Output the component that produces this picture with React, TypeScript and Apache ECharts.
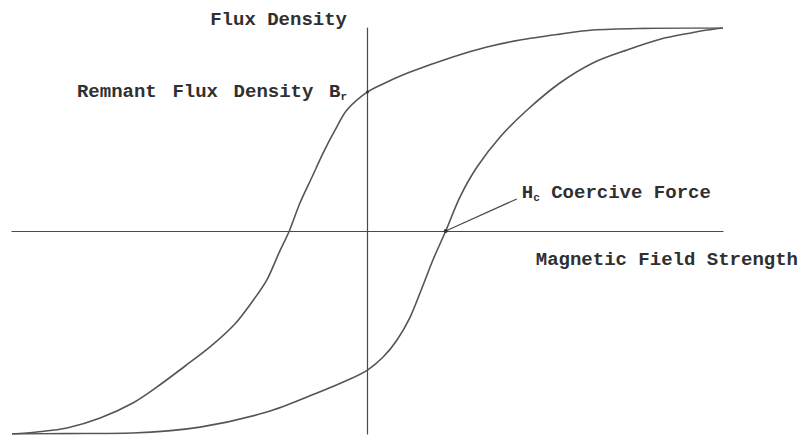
import React, { useEffect, useRef } from "react";
import * as echarts from "echarts";

// Descending branch (from positive saturation back to negative saturation)
const upperH = [1.0, 0.916, 0.775, 0.634, 0.541, 0.429, 0.336, 0.24, 0.12, 0.055, 0.0, -0.058, -0.091, -0.125, -0.156, -0.19, -0.22, -0.249, -0.283, -0.325, -0.373, -0.443, -0.513, -0.592, -0.66, -0.752, -0.845, -0.93, -1.0];
const upperB = [1.0, 1.0, 0.998, 0.99, 0.97, 0.941, 0.906, 0.857, 0.783, 0.734, 0.685, 0.596, 0.498, 0.384, 0.266, 0.138, 0.0, -0.108, -0.241, -0.35, -0.458, -0.571, -0.665, -0.768, -0.847, -0.921, -0.97, -0.99, -1.0];

// Ascending branch (from negative saturation up to positive saturation)
const lowerH = [-1.0, -0.845, -0.66, -0.471, -0.283, -0.142, -0.049, 0.0, 0.044, 0.083, 0.12, 0.151, 0.184, 0.22, 0.26, 0.308, 0.373, 0.449, 0.541, 0.634, 0.73, 0.823, 0.916, 0.955, 1.0];
const lowerB = [-1.0, -0.998, -0.995, -0.966, -0.892, -0.798, -0.729, -0.685, -0.621, -0.537, -0.424, -0.291, -0.143, 0.0, 0.167, 0.315, 0.463, 0.596, 0.729, 0.828, 0.892, 0.945, 0.978, 0.99, 1.0];

// Characteristic points of the loop
const remanence = 0.685;
const coerciveForce = 0.22;
const coerciveLeaderEnd = [0.42, 0.158];

const fieldTitle = "Magnetic Field Strength";
const fluxTitle = "Flux Density";
const remanenceWords = ["Remnant", "Flux", "Density", "B"];
const coerciveLabel = " Coercive Force";

const FONT = "'Liberation Mono', 'DejaVu Sans Mono', monospace";
const TEXT_COLOR = "#303030";
const CURVE_COLOR = "#555555";

const zip = (xs: number[], ys: number[]) => xs.map((x, i) => [x, ys[i]]);

const baseText = {
  fontFamily: FONT,
  fontWeight: "bold" as const,
  fontSize: 19,
  color: TEXT_COLOR,
};

const gapText = { ...baseText, fontSize: 26 };

const subText = {
  fontFamily: FONT,
  fontWeight: "bold" as const,
  fontSize: 11,
  color: TEXT_COLOR,
  padding: [10, 0, 0, 0],
};

export default function App() {
  const ref = useRef<HTMLDivElement>(null);

  useEffect(() => {
    if (!ref.current) return;
    const chart = echarts.init(ref.current, undefined, { renderer: "svg" });

    chart.setOption({
      animation: false,
      backgroundColor: "#ffffff",
      grid: { left: 12, top: 28, width: 711, height: 406, containLabel: false },
      xAxis: {
        type: "value",
        min: -1,
        max: 1,
        axisLine: { onZero: true, lineStyle: { color: "#4a4a4a", width: 1.2 } },
        axisTick: { show: false },
        axisLabel: { show: false },
        splitLine: { show: false },
      },
      yAxis: {
        type: "value",
        min: -1,
        max: 1,
        axisLine: { onZero: true, lineStyle: { color: "#4a4a4a", width: 1.2 } },
        axisTick: { show: false },
        axisLabel: { show: false },
        splitLine: { show: false },
      },
      series: [
        {
          name: "Descending branch",
          type: "line",
          data: zip(upperH, upperB),
          smooth: 0.3,
          showSymbol: false,
          lineStyle: { color: CURVE_COLOR, width: 1.6 },
          z: 3,
        },
        {
          name: "Ascending branch",
          type: "line",
          data: zip(lowerH, lowerB),
          smooth: 0.3,
          showSymbol: false,
          lineStyle: { color: CURVE_COLOR, width: 1.6 },
          z: 3,
        },
        {
          name: "Coercive leader",
          type: "line",
          data: [[coerciveForce, 0], coerciveLeaderEnd],
          showSymbol: false,
          lineStyle: { color: "#4a4a4a", width: 1.2 },
          endLabel: {
            show: true,
            distance: 5,
            offset: [0, -6],
            color: TEXT_COLOR,
            formatter: () => `{t|H}{s|c}{t|${coerciveLabel}}`,
            rich: { t: baseText, s: subText },
          },
          z: 4,
        },
        {
          name: "Remanence",
          type: "scatter",
          data: [[0, remanence]],
          symbol: "circle",
          symbolSize: 3,
          itemStyle: { color: "#333", opacity: 1 },
          label: {
            show: true,
            position: "left",
            distance: 19,
            color: TEXT_COLOR,
            opacity: 1,
            formatter: () =>
              remanenceWords.map((w) => `{t|${w}}`).join("{g| }") + "{s|r}",
            rich: { t: baseText, g: gapText, s: subText },
          },
          z: 5,
        },
        {
          name: "Coercivity",
          type: "scatter",
          data: [[coerciveForce, 0]],
          symbol: "circle",
          symbolSize: 4,
          itemStyle: { color: "#333", opacity: 1 },
          z: 5,
        },
      ],
      graphic: [
        {
          type: "text",
          x: 347,
          y: 20,
          style: {
            text: fluxTitle,
            font: `bold 19px ${FONT}`,
            fill: TEXT_COLOR,
            textAlign: "right",
            textVerticalAlign: "middle",
          },
        },
        {
          type: "text",
          x: 798,
          y: 260,
          style: {
            text: fieldTitle,
            font: `bold 19px ${FONT}`,
            fill: TEXT_COLOR,
            textAlign: "right",
            textVerticalAlign: "middle",
          },
        },
      ],
    });

    return () => chart.dispose();
  }, []);

  return (
    <div
      ref={ref}
      style={{ position: "fixed", left: 0, top: 0, width: 801, height: 440 }}
    />
  );
}
